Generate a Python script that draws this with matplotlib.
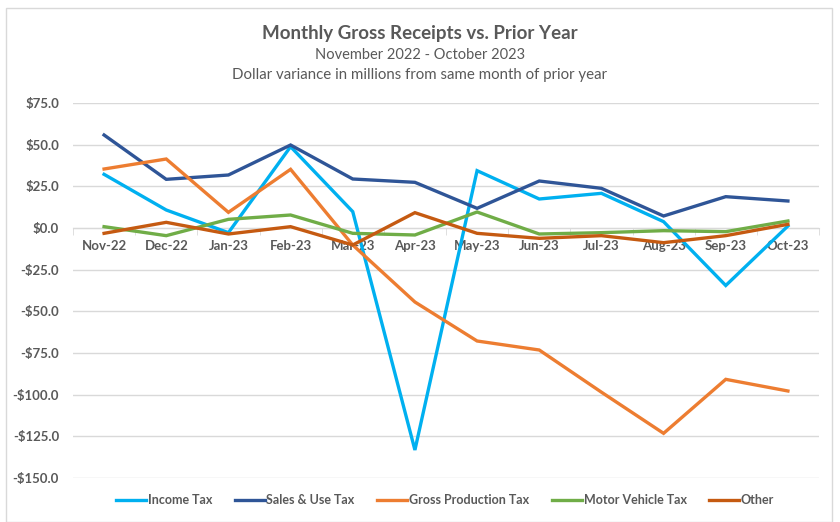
import matplotlib.pyplot as plt
from matplotlib.patches import Rectangle
from matplotlib.ticker import FuncFormatter, MultipleLocator

plt.rcParams['font.family'] = ['Lato', 'DejaVu Sans']

# ----------------------------------------------------------
# Data (dollar variance in millions vs same month prior year)
# ----------------------------------------------------------
months = ['Nov-22', 'Dec-22', 'Jan-23', 'Feb-23', 'Mar-23', 'Apr-23',
          'May-23', 'Jun-23', 'Jul-23', 'Aug-23', 'Sep-23', 'Oct-23']

income_tax    = [32.2, 10.8, -2.8, 48.8, 9.8, -133.2, 34.4, 17.4, 20.8, 3.8, -34.5, 1.2]
sales_use_tax = [55.8, 29.2, 31.8, 49.8, 29.4, 27.4, 11.8, 28.2, 23.8, 7.2, 18.8, 16.2]
gross_prod    = [35.4, 41.4, 9.4, 35.2, -10.2, -44.4, -67.8, -73.2, -98.5, -123.2, -90.8, -97.8]
motor_vehicle = [0.8, -4.6, 5.2, 7.8, -3.2, -4.2, 9.6, -3.6, -2.8, -1.6, -2.2, 4.2]
other         = [-3.2, 3.4, -3.6, 0.8, -10.2, 9.2, -3.2, -6.2, -4.6, -8.8, -4.6, 2.2]

series = [
    ('Income Tax', income_tax, '#00B0F0'),
    ('Sales & Use Tax', sales_use_tax, '#2F5597'),
    ('Gross Production Tax', gross_prod, '#ED7D31'),
    ('Motor Vehicle Tax', motor_vehicle, '#70AD47'),
    ('Other', other, '#C55A11'),
]

W, H = 840, 522
fig = plt.figure(figsize=(W / 100, H / 100), dpi=100)
ax = fig.add_axes([73 / W, 1 - 478 / H, (819 - 73) / W, (478 - 103) / H])

x = list(range(len(months)))
for name, vals, col in series:
    ax.plot(x, vals, color=col, lw=2.4, label=name, solid_joinstyle='miter')

ax.set_xlim(-0.5, len(months) - 0.5)
ax.set_ylim(-150, 75)
ax.yaxis.set_major_locator(MultipleLocator(25))
ax.yaxis.set_major_formatter(FuncFormatter(
    lambda v, p: f"${v:.1f}" if v >= 0 else f"-${-v:.1f}"))
ax.grid(axis='y', color='#D9D9D9', lw=1)
ax.set_axisbelow(True)

for s in ['top', 'right', 'left']:
    ax.spines[s].set_visible(False)
ax.spines['bottom'].set_position(('data', 0))
ax.spines['bottom'].set_color('#D9D9D9')
ax.spines['bottom'].set_zorder(1)

ax.set_xticks(x)
ax.set_xticklabels(months)
ax.set_xticks([i - 0.5 for i in range(len(months) + 1)], minor=True)
ax.tick_params(axis='x', which='major', length=0, pad=9,
               labelsize=9.5, labelcolor='#595959')
ax.tick_params(axis='x', which='minor', length=5, color='#D9D9D9', direction='out')
ax.tick_params(axis='y', length=0, pad=10, labelsize=9.5, labelcolor='#595959')
for lab in ax.get_xticklabels() + ax.get_yticklabels():
    lab.set_fontweight('bold')

fig.text(0.5, 1 - 33 / H, 'Monthly Gross Receipts vs. Prior Year', ha='center',
         va='center', fontsize=13.5, fontweight='bold', color='#595959')
fig.text(0.5, 1 - 55 / H, 'November 2022 - October 2023', ha='center',
         va='center', fontsize=10.5, color='#595959')
fig.text(0.5, 1 - 75 / H, 'Dollar variance in millions from same month of prior year',
         ha='center', va='center', fontsize=10.8, color='#595959')

leg = fig.legend(loc='center', bbox_to_anchor=(445 / W, 1 - 500 / H), ncol=5,
                 frameon=False, handlelength=2.4, handletextpad=0.15,
                 columnspacing=1.8, prop={'size': 9, 'weight': 'bold'})
for t in leg.get_texts():
    t.set_color('#595959')

fig.patches.append(Rectangle((6 / W, 0), (832 - 6) / W, 1 - 8 / H,
                             transform=fig.transFigure, fill=False,
                             edgecolor='#D9D9D9', lw=1))

fig.savefig('out.png', dpi=100, facecolor='white')
